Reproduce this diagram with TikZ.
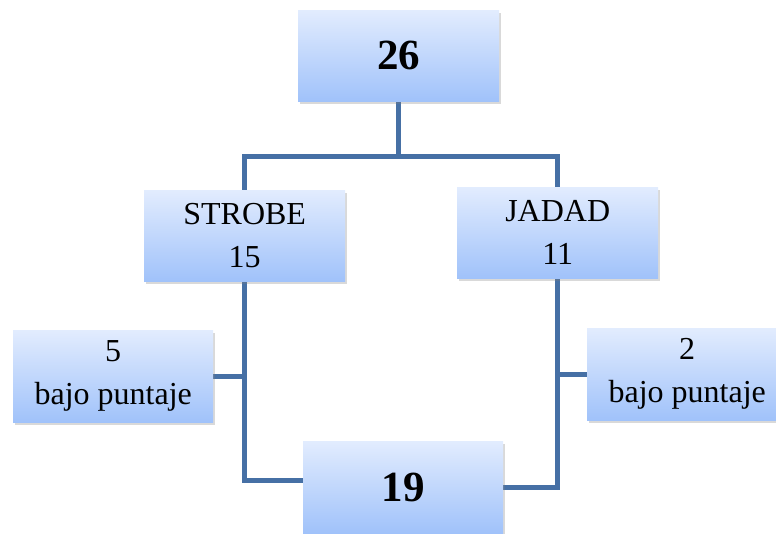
\documentclass[tikz,border=0pt]{standalone}
\usepackage{fontspec}
\setmainfont{Liberation Serif}
\usetikzlibrary{shadows,backgrounds,calc}
\definecolor{linkblue}{RGB}{70,112,165}
\definecolor{boxtop}{RGB}{226,236,254}
\definecolor{boxbot}{RGB}{160,194,250}
\begin{document}
\begin{tikzpicture}[x=1pt,y=-1pt,
  box/.style={anchor=north west,inner sep=0pt,minimum width=201pt,minimum height=91pt,
    top color=boxtop,bottom color=boxbot,draw=none,align=center,
    font=\fontsize{32}{43}\selectfont,
    drop shadow={opacity=0.3,shadow xshift=2pt,shadow yshift=-3pt}},
  bigbox/.style={box,font=\fontsize{43}{46}\selectfont\bfseries},
  link/.style={draw=linkblue,line width=5pt}]
\useasboundingbox (0,0) rectangle (776,533);
\node[bigbox] (top) at (298,10) {26};
\node[box] (strobe) at (144,190) {STROBE\\15};
\node[box] (jadad) at (457,187) {JADAD\\11};
\node[box,minimum width=200pt,minimum height=92pt] (b5) at (13,330) {5\\bajo puntaje};
\node[box,minimum width=200pt,minimum height=92pt] (b2) at (587,328) {2\\bajo puntaje};
\node[bigbox,minimum width=200pt,minimum height=92pt] (b19) at (303,441) {19};
\coordinate (j) at (top.south |- 0,156);
\begin{scope}[on background layer]
\draw[link] (top.south) -- (j);
\draw[link] (strobe.north) |- (j) -| (jadad.north);
\draw[link] (strobe.south) |- ([yshift=7pt]b19.west);
\draw[link] (jadad.south) |- (b19.east);
\draw[link] (b5.east) -- (b5.east -| strobe.south);
\draw[link] (b2.west) -- (b2.west -| jadad.south);
\end{scope}
\end{tikzpicture}
\end{document}
